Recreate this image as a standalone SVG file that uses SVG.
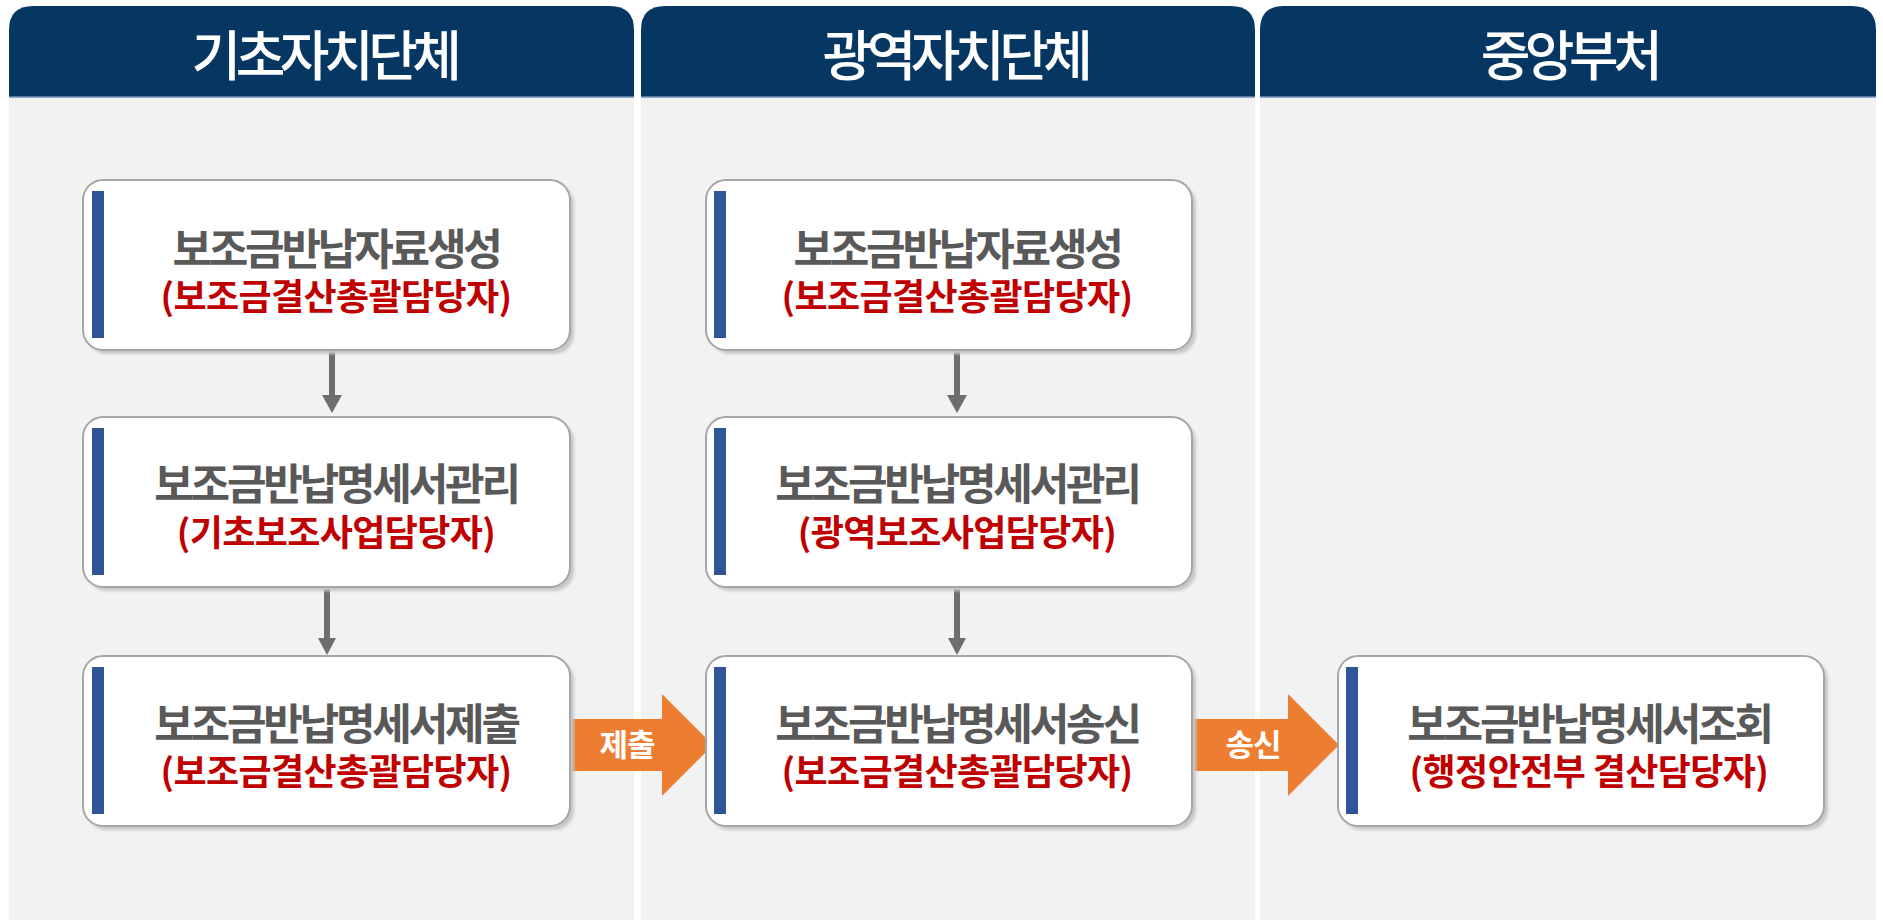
<svg xmlns="http://www.w3.org/2000/svg" width="1883" height="920" viewBox="0 0 1883 920">
<style>
.hdr{fill:#063762}
.hline{stroke:#6f93b8;stroke-width:1.5}
.body{fill:#f2f2f2}
.htxt{font-family:"Noto Sans CJK KR","Noto Sans",sans-serif;font-size:54px;font-weight:500;fill:#ffffff;text-anchor:middle;letter-spacing:-5.5px}
.box{fill:#ffffff;stroke:#a6a6a6;stroke-width:2}
.shadow{fill:#c8c8c8;filter:url(#blur)}
.bar{fill:#2f5597}
.t1{font-family:"Noto Sans CJK KR","Noto Sans",sans-serif;font-size:43px;font-weight:700;fill:#595959;text-anchor:middle;letter-spacing:-3.2px}
.t2{font-family:"Noto Sans CJK KR","Noto Sans",sans-serif;font-size:36px;font-weight:700;fill:#c00000;text-anchor:middle;letter-spacing:-0.6px}
.conn{stroke:#6e6e6e;stroke-width:6;fill:none}
.head{fill:#6e6e6e}
.big{fill:#ed7d31}
.atxt{font-family:"Noto Sans CJK KR","Noto Sans",sans-serif;font-size:31px;font-weight:700;fill:#ffffff;text-anchor:middle;letter-spacing:-1px}
</style>
<defs>
<filter id="blur" x="-5%" y="-5%" width="110%" height="110%"><feGaussianBlur stdDeviation="1.5"/></filter>
</defs>
<rect width="1883" height="920" fill="#ffffff"/>
<g id="lane1">
<rect class="body" x="9" y="97" width="625" height="823"/>
<path class="hdr" d="M9,97 V30 Q9,6 33,6 H610 Q634,6 634,30 V97 Z"/>
<line class="hline" x1="9" y1="97" x2="634" y2="97"/>
<text class="htxt" x="324" y="76">기초자치단체</text>
</g>
<g id="lane2">
<rect class="body" x="641" y="97" width="614" height="823"/>
<path class="hdr" d="M641,97 V30 Q641,6 665,6 H1231 Q1255,6 1255,30 V97 Z"/>
<line class="hline" x1="641" y1="97" x2="1255" y2="97"/>
<text class="htxt" x="955" y="76">광역자치단체</text>
</g>
<g id="lane3">
<rect class="body" x="1260" y="97" width="616" height="823"/>
<path class="hdr" d="M1260,97 V30 Q1260,6 1284,6 H1852 Q1876,6 1876,30 V97 Z"/>
<line class="hline" x1="1260" y1="97" x2="1876" y2="97"/>
<text class="htxt" x="1569" y="76">중앙부처</text>
</g>
<g id="connectors">
<line class="conn" x1="332" y1="351" x2="332" y2="397"/>
<polygon class="head" points="322,395 342,395 332,413"/>
<line class="conn" x1="327" y1="588" x2="327" y2="640"/>
<polygon class="head" points="318,638 336,638 327,655"/>
<line class="conn" x1="957" y1="351" x2="957" y2="397"/>
<polygon class="head" points="947,395 967,395 957,413"/>
<line class="conn" x1="957" y1="588" x2="957" y2="640"/>
<polygon class="head" points="948,638 966,638 957,655"/>
<g id="submit">
<polygon class="big" points="565,719 662,719 662,694 713,745 662,796 662,771 565,771"/>
<text class="atxt" x="627" y="756">제출</text>
</g>
<g id="send">
<polygon class="big" points="1191,719 1288,719 1288,694 1339,745 1288,796 1288,771 1191,771"/>
<text class="atxt" x="1253" y="756">송신</text>
</g>
</g>
<g id="node-b1">
<rect class="shadow" x="87" y="184" width="487" height="170" rx="20"/>
<rect class="box" x="83" y="180" width="487" height="170" rx="20"/>
<rect class="bar" x="92" y="191" width="12" height="147"/>
<text class="t1" x="336" y="265">보조금반납자료생성</text>
<text class="t2" x="336" y="310">(보조금결산총괄담당자)</text>
</g>
<g id="node-b2">
<rect class="shadow" x="87" y="421" width="487" height="170" rx="20"/>
<rect class="box" x="83" y="417" width="487" height="170" rx="20"/>
<rect class="bar" x="92" y="428" width="12" height="147"/>
<text class="t1" x="336" y="500">보조금반납명세서관리</text>
<text class="t2" x="336" y="546">(기초보조사업담당자)</text>
</g>
<g id="node-b3">
<rect class="shadow" x="87" y="660" width="487" height="170" rx="20"/>
<rect class="box" x="83" y="656" width="487" height="170" rx="20"/>
<rect class="bar" x="92" y="667" width="12" height="147"/>
<text class="t1" x="336" y="740">보조금반납명세서제출</text>
<text class="t2" x="336" y="785">(보조금결산총괄담당자)</text>
</g>
<g id="node-w1">
<rect class="shadow" x="710" y="184" width="486" height="170" rx="20"/>
<rect class="box" x="706" y="180" width="486" height="170" rx="20"/>
<rect class="bar" x="714" y="191" width="12" height="147"/>
<text class="t1" x="957" y="265">보조금반납자료생성</text>
<text class="t2" x="957" y="310">(보조금결산총괄담당자)</text>
</g>
<g id="node-w2">
<rect class="shadow" x="710" y="421" width="486" height="170" rx="20"/>
<rect class="box" x="706" y="417" width="486" height="170" rx="20"/>
<rect class="bar" x="714" y="428" width="12" height="147"/>
<text class="t1" x="957" y="500">보조금반납명세서관리</text>
<text class="t2" x="957" y="546">(광역보조사업담당자)</text>
</g>
<g id="node-w3">
<rect class="shadow" x="710" y="660" width="486" height="170" rx="20"/>
<rect class="box" x="706" y="656" width="486" height="170" rx="20"/>
<rect class="bar" x="714" y="667" width="12" height="147"/>
<text class="t1" x="957" y="740">보조금반납명세서송신</text>
<text class="t2" x="957" y="785">(보조금결산총괄담당자)</text>
</g>
<g id="node-c1">
<rect class="shadow" x="1342" y="660" width="486" height="170" rx="20"/>
<rect class="box" x="1338" y="656" width="486" height="170" rx="20"/>
<rect class="bar" x="1346" y="667" width="12" height="147"/>
<text class="t1" x="1589" y="740">보조금반납명세서조회</text>
<text class="t2" x="1589" y="785">(행정안전부 결산담당자)</text>
</g>
</svg>
